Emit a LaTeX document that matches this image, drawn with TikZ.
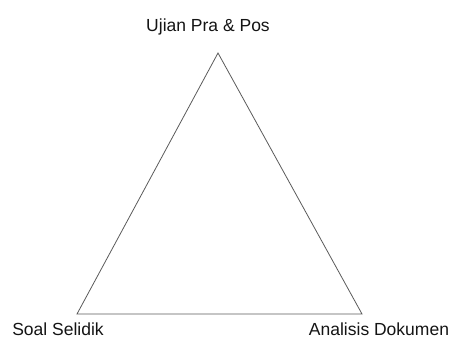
\documentclass[tikz,border=0pt]{standalone}
\usepackage{fontspec}
\setmainfont{Liberation Sans}
\usetikzlibrary{positioning}
\definecolor{edgeGray}{RGB}{90, 90, 90}
\definecolor{labelBlack}{RGB}{20, 20, 20}
\tikzset{
  triSide/.style={
    draw=edgeGray,
    line width=0.8pt,
    line join=miter
  },
  cornerLabel/.style={
    inner sep=0pt,
    font=\fontsize{17.5}{20}\selectfont\color{labelBlack}
  }
}
\begin{document}
\begin{tikzpicture}[x=1pt,y=-1pt]
  \useasboundingbox (0,0) rectangle (452,340);
  % corners of the triangle
  \coordinate (apex) at (218,53);
  \coordinate (leftCorner) at (77,314);
  \coordinate (rightCorner) at (362,314);
  \draw[triSide] (apex) -- (leftCorner) -- (rightCorner) -- cycle;
  % labels
  \node[cornerLabel, anchor=base] (praPos) at (208,31) {Ujian Pra \& Pos};
  \node[cornerLabel, anchor=base] (soalSelidik) at (58,335.5) {Soal Selidik};
  \node[cornerLabel, anchor=base] (analisisDok) at (379,335.5) {Analisis Dokumen};
\end{tikzpicture}
\end{document}
